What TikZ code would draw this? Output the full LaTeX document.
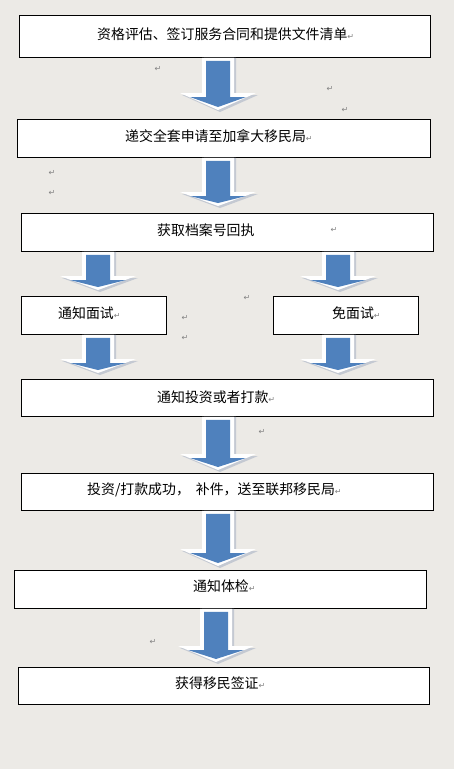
\documentclass[tikz,border=0pt]{standalone}
\usepackage{fontspec}
\usetikzlibrary{calc}
\newfontfamily\cjk{Noto Sans CJK SC}
\newfontfamily\symf{DejaVu Sans}
\definecolor{bgc}{RGB}{236,234,230}
\definecolor{arrblue}{RGB}{79,129,189}
\definecolor{arrshadow}{RGB}{196,201,210}
\definecolor{markgray}{RGB}{130,130,130}
\newcommand\rmark{{\symf\fontsize{8}{9}\selectfont\color{markgray}↵}}
\tikzset{
  box/.style={draw=black, line width=0.9pt, fill=white, inner sep=0pt, anchor=north west},
  lbl/.style={font=\cjk\fontsize{13.9}{16}\selectfont, inner sep=0pt, anchor=west, text=black},
  pmark/.style={font=\symf\fontsize{8}{9}\selectfont, text=markgray, inner sep=0pt},
}
% #1 centre x (px), #2 from node, #3 to node, #4 gap above target, #5 head length
\newcommand\blkarrow[5]{%
  \path[fill=arrshadow] let \p1=(#2.south), \p2=(#3.north) in
      ({#1pt-14pt},{\y1}) -- ({#1pt+18pt},{\y1}) -- ({#1pt+18pt},{\y2+#4pt+#5pt-2pt})
      -- ({#1pt+40pt},{\y2+#4pt+#5pt-2pt}) -- ({#1pt+2pt},{\y2+#4pt-2pt})
      -- ({#1pt-36pt},{\y2+#4pt+#5pt-2pt}) -- ({#1pt-14pt},{\y2+#4pt+#5pt-2pt}) -- cycle;
  \path[fill=white] let \p1=(#2.south), \p2=(#3.north) in
      ({#1pt-16pt},{\y1}) -- ({#1pt+16pt},{\y1}) -- ({#1pt+16pt},{\y2+#4pt+#5pt})
      -- ({#1pt+38pt},{\y2+#4pt+#5pt}) -- ({#1pt},{\y2+#4pt})
      -- ({#1pt-38pt},{\y2+#4pt+#5pt}) -- ({#1pt-16pt},{\y2+#4pt+#5pt}) -- cycle;
  \path[fill=arrblue] let \p1=(#2.south), \p2=(#3.north) in
      ({#1pt-12pt},{\y1-3pt}) -- ({#1pt+12pt},{\y1-3pt}) -- ({#1pt+12pt},{\y2+#4pt+#5pt-4pt})
      -- ({#1pt+28pt},{\y2+#4pt+#5pt-4pt}) -- ({#1pt},{\y2+#4pt+3pt})
      -- ({#1pt-28pt},{\y2+#4pt+#5pt-4pt}) -- ({#1pt-12pt},{\y2+#4pt+#5pt-4pt}) -- cycle;
}
\begin{document}
\begin{tikzpicture}[x=1pt,y=-1pt]
\fill[bgc] (0,0) rectangle (454,769);
\useasboundingbox (0,0) rectangle (454,769);

% boxes
\node[box, minimum width=411pt, minimum height=42pt] (b1) at (19,15) {};
\node[box, minimum width=413pt, minimum height=38pt] (b2) at (17,119) {};
\node[box, minimum width=412pt, minimum height=38pt] (b3) at (21,213) {};
\node[box, minimum width=145pt, minimum height=38pt] (b4) at (21,296) {};
\node[box, minimum width=145pt, minimum height=38pt] (b5) at (273,296) {};
\node[box, minimum width=412pt, minimum height=37pt] (b6) at (21,379) {};
\node[box, minimum width=412pt, minimum height=37pt] (b7) at (21,473) {};
\node[box, minimum width=412pt, minimum height=38pt] (b8) at (14,570) {};
\node[box, minimum width=411pt, minimum height=37pt] (b9) at (18,667) {};

% labels
\node[lbl] (t1) at (97,34) {资格评估、签订服务合同和提供文件清单\rmark};
\node[lbl] (t2) at (125,136) {递交全套申请至加拿大移民局\rmark};
\node[lbl] (t3) at (157,230) {获取档案号回执};
\node[pmark] (m3) at (334,230) {↵};
\node[lbl] (t4) at (58,313) {通知面试\rmark};
\node[lbl] (t5) at (332,313) {免面试\rmark};
\node[lbl] (t6) at (157,397) {通知投资或者打款\rmark};
\node[lbl] (t7) at (87,490) {投资/打款成功，\hspace{6pt}补件，送至联邦移民局\rmark};
\node[lbl] (t8) at (193,586) {通知体检\rmark};
\node[lbl] (t9) at (175,683) {获得移民签证\rmark};

% block arrows
\blkarrow{218}{b1}{b2}{9}{17}
\blkarrow{218}{b2}{b3}{7}{14}
\blkarrow{98}{b3}{b4}{6}{14}
\blkarrow{338}{b3}{b5}{6}{14}
\blkarrow{98}{b4}{b6}{6}{14}
\blkarrow{338}{b5}{b6}{6}{14}
\blkarrow{218}{b6}{b7}{3}{16}
\blkarrow{218}{b7}{b8}{4}{17}
\blkarrow{216}{b8}{b9}{5}{16}

% stray paragraph marks
\node[pmark] (p1) at (158,69) {↵};
\node[pmark] (p2) at (330,89) {↵};
\node[pmark] (p3) at (345,110) {↵};
\node[pmark] (p4) at (52,173) {↵};
\node[pmark] (p5) at (52,193) {↵};
\node[pmark] (p6) at (247,298) {↵};
\node[pmark] (p7) at (185,318) {↵};
\node[pmark] (p8) at (185,338) {↵};
\node[pmark] (p9) at (262,432) {↵};
\node[pmark] (p10) at (153,642) {↵};
\end{tikzpicture}
\end{document}
